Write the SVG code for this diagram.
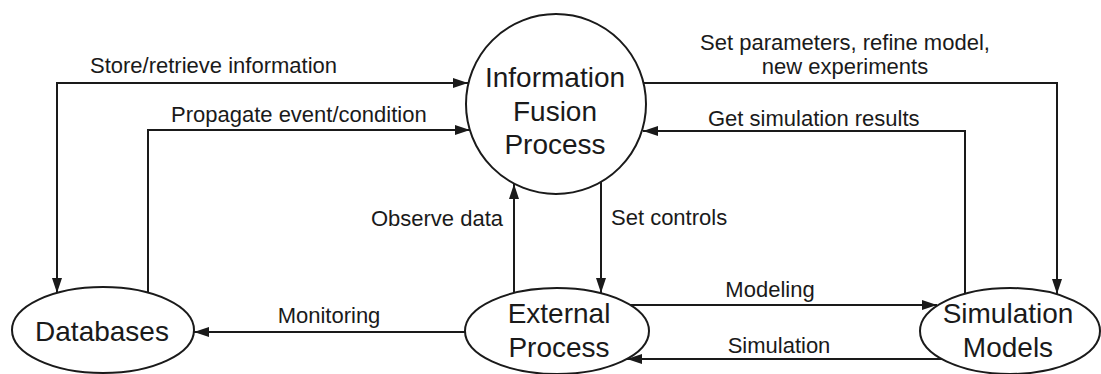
<svg xmlns="http://www.w3.org/2000/svg" width="1101" height="374" viewBox="0 0 1101 374">
<style>
.node{fill:#fff;stroke:#1a1a1a;stroke-width:2}
.nt{font-family:"Liberation Sans",Arial,sans-serif;font-size:28px;fill:#1a1a1a;text-anchor:middle}
.lbl{font-family:"Liberation Sans",Arial,sans-serif;font-size:22px;fill:#1a1a1a}
.c{fill:none;stroke:#1a1a1a;stroke-width:2}
</style>
<defs>
<marker id="ah" markerUnits="userSpaceOnUse" markerWidth="16" markerHeight="12" refX="15" refY="6" orient="auto-start-reverse">
<path d="M0,1 L15,6 L0,11 Z" fill="#1a1a1a"/>
</marker>
</defs>
<rect width="1101" height="374" fill="#fff"/>
<g id="connectors">
<path class="c" d="M57,293 V83 H468" marker-start="url(#ah)" marker-end="url(#ah)"/>
<path class="c" d="M148,293 V130 H470" marker-end="url(#ah)"/>
<path class="c" d="M643,83 H1057 V294" marker-end="url(#ah)"/>
<path class="c" d="M965,294 V131 H643" marker-end="url(#ah)"/>
<path class="c" d="M514,293 V184" marker-end="url(#ah)"/>
<path class="c" d="M601,182 V293" marker-end="url(#ah)"/>
<path class="c" d="M465,332 H194" marker-end="url(#ah)"/>
<path class="c" d="M630,305 H937" marker-end="url(#ah)"/>
<path class="c" d="M942,359 H627" marker-end="url(#ah)"/>
<text class="lbl" x="90" y="73">Store/retrieve information</text>
<text class="lbl" x="171" y="122">Propagate event/condition</text>
<text class="lbl" x="845" y="50" text-anchor="middle">Set parameters, refine model,</text>
<text class="lbl" x="845" y="74" text-anchor="middle">new experiments</text>
<text class="lbl" x="708" y="126">Get simulation results</text>
<text class="lbl" x="503" y="226" text-anchor="end">Observe data</text>
<text class="lbl" x="611" y="225">Set controls</text>
<text class="lbl" x="329" y="323" text-anchor="middle">Monitoring</text>
<text class="lbl" x="770" y="297" text-anchor="middle">Modeling</text>
<text class="lbl" x="779" y="353" text-anchor="middle">Simulation</text>
</g>
<g id="fusion">
<circle class="node" cx="556" cy="104" r="90"/>
<text class="nt" x="555" y="87">Information</text>
<text class="nt" x="555" y="121">Fusion</text>
<text class="nt" x="555" y="154">Process</text>
</g>
<g id="databases">
<ellipse class="node" cx="103" cy="330" rx="91" ry="43"/>
<text class="nt" x="102" y="341">Databases</text>
</g>
<g id="external">
<ellipse class="node" cx="557" cy="331" rx="92" ry="43"/>
<text class="nt" x="559" y="323">External</text>
<text class="nt" x="559" y="357">Process</text>
</g>
<g id="simulation">
<ellipse class="node" cx="1010" cy="331" rx="90" ry="43"/>
<text class="nt" x="1008" y="323">Simulation</text>
<text class="nt" x="1008" y="357">Models</text>
</g>
</svg>
